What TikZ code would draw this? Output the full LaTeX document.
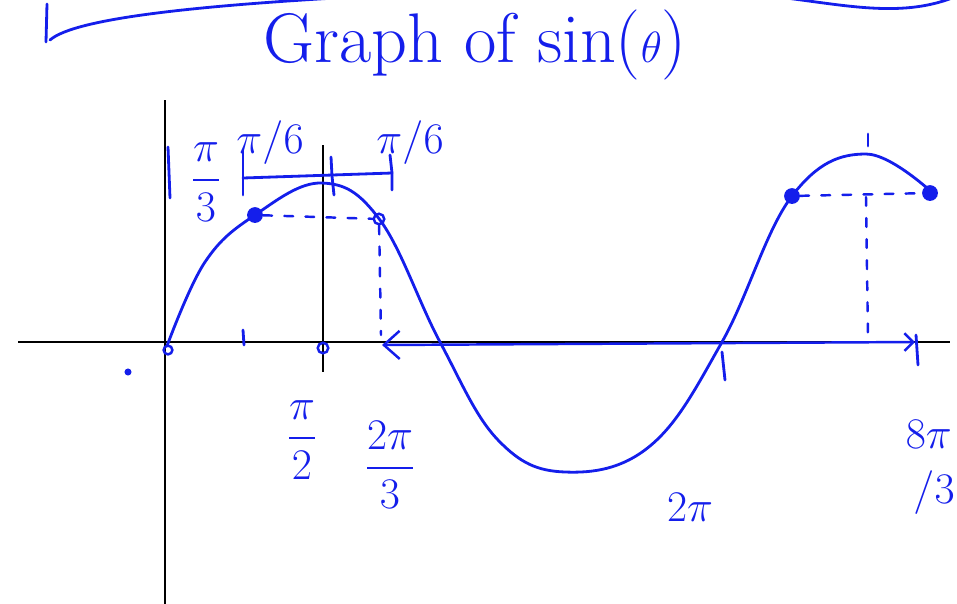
\documentclass[tikz,border=0pt]{standalone}
\usepackage{amsmath}
\usetikzlibrary{positioning,arrows.meta}
\definecolor{inkblue}{RGB}{20,30,235}

\begin{document}
\begin{tikzpicture}[x=0.02cm, y=-0.02cm,
  ink/.style={draw=inkblue, line width=1.6pt, line cap=round},
  axisline/.style={draw=black, line width=1.3pt},
  guide/.style={ink, line width=1.4pt, dash pattern=on 5pt off 7pt},
  lbl/.style={text=inkblue, inner sep=0pt, font=\fontsize{27}{29}\selectfont},
  bigdot/.style={circle, fill=inkblue, inner sep=0pt, minimum size=9pt},
  opendot/.style={circle, draw=inkblue, line width=1.4pt, inner sep=0pt, minimum size=6pt}]
  \useasboundingbox (0,0) rectangle (957,603);

  % Stroke at the top
  \draw[ink] (47,4) -- (46,42);
  \draw[ink] (50,40) .. controls (75,18) and (200,6) .. (335,-2);
  \draw[ink] (786,-2) .. controls (850,6) and (905,18) .. (957,-4);

  % Title
  \node[lbl, font=\fontsize{40}{44}\selectfont] (title) at (475,45) {Graph of sin($\theta$)};

  % Axes
  \coordinate (xleft) at (18,342);
  \coordinate (xright) at (950,342);
  \coordinate (ytop) at (165,100);
  \coordinate (ybot) at (165,610);
  \coordinate (mtop) at (323,145);
  \coordinate (mbot) at (323,372);
  \draw[axisline] (xleft) -- (xright);
  \draw[axisline] (ytop) -- (ybot);
  \draw[axisline] (mtop) -- (mbot);

  % The sine curve
  \draw[ink] plot[smooth, tension=0.65] coordinates {
    (167,346) (205,262) (255,215) (322,183) (380,220)
    (440,342) (498,440) (565,472) (650,446)
    (722,342) (792,196) (866,154) (936,196)};

  % Points on the curve
  \node[bigdot] (p1) at (255,215) {};
  \node[opendot] (p2) at (379,219) {};
  \node[bigdot] (p3) at (792,196) {};
  \node[bigdot] (p4) at (930,193) {};
  \node[opendot, minimum size=5pt] (o1) at (168,350) {};
  \node[opendot] (o2) at (323,348) {};

  % Level and drop lines
  \coordinate (d2) at (381,335);
  \coordinate (t4) at (866,197);
  \coordinate (d4) at (868,340);
  \draw[guide] (p1) -- (p2);
  \draw[guide] (p2) -- (d2);
  \draw[guide] (p3) -- (p4);
  \draw[guide] (t4) -- (d4);

  % Shift along the axis
  \coordinate (sleft) at (382,345);
  \coordinate (sright) at (915,342);
  \draw[ink, line width=1.4pt, {Straight Barb[length=9pt,width=16pt]}-{Straight Barb[length=5pt,width=10pt]}]
    (sleft) -- (sright);

  % Bracket of width pi/6 + pi/6
  \coordinate (bl) at (243,178);
  \coordinate (bm) at (332,176);
  \coordinate (br) at (392,173);
  \draw[ink] (bl) -- (br);
  \draw[ink] (243,150) -- (bl) -- (243,195);
  \draw[ink] (331,157) -- (bm) -- (334,195);
  \draw[ink] (390,155) -- (br) -- (392,190);
  \draw[ink] (168,147) -- (170,198);

  % Ticks
  \draw[ink] (243,330) -- (244,345);
  \draw[ink] (868,134) -- (868,146);
  \draw[ink] (722,352) -- (725,380);
  \draw[ink] (916,335) -- (918,365);
  \fill[inkblue] (128,372) circle (2pt);

  % Labels
  \node[lbl] (lsix) at (270,143) {$\pi/6$};
  \node[lbl] (rsix) at (410,143) {$\pi/6$};
  \node[lbl] (third) at (206,182) {$\dfrac{\pi}{3}$};
  \node[lbl] (half) at (302,440) {$\dfrac{\pi}{2}$};
  \node[lbl] (twothird) at (390,465) {$\dfrac{2\pi}{3}$};
  \node[lbl] (twopi) at (690,507) {$2\pi$};
  \node[lbl, align=left, anchor=north east] (eightthird) at (955,420)
    {$8\pi$\\[2pt]$\,/3$};
\end{tikzpicture}
\end{document}
